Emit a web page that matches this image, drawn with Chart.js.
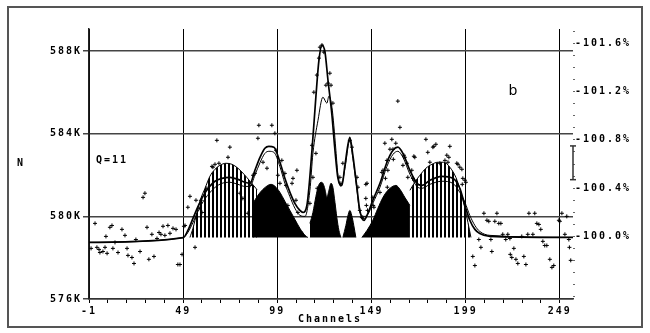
<!DOCTYPE html>
<html>
<head>
<meta charset="utf-8">
<script src="https://cdn.jsdelivr.net/npm/chart.js@4.4.0/dist/chart.umd.min.js"></script>
<style>
html, body { margin: 0; padding: 0; background: #fff; }
</style>
</head>
<body>
<canvas id="chart" width="650" height="333"></canvas>
<script>

// axis ticks
var xTicks = [-1, 9, 19, 29, 39, 49, 59, 69, 79, 89, 99, 109, 119, 129, 139, 149, 159, 169, 179, 189, 199, 209, 219, 229, 239, 249];
var xLabels = [-1, 49, 99, 149, 199, 249];
var yTicks = [576, 580, 584, 588];
var pctTicks = [-101.7, -101.6, -101.5, -101.4, -101.3, -101.2, -101.1, -101.0, -100.9, -100.8, -100.7, -100.6, -100.5, -100.4, -100.3, -100.2, -100.1, -100.0, -99.9, -99.8, -99.7, -99.6, -99.5];
var pctLabels = [-101.6, -101.2, -100.8, -100.4, -100.0];

// background level under the components (K counts)
var background = 578.98;
// error bar on the % axis
var errBar = [-100.75, -100.47];

// measured counts [channel, N in K]
var countsLeft = [[0.1,578.45],[2.2,579.66],[3.2,578.50],[4.3,578.40],[4.8,578.25],[6.4,578.30],[7.5,578.50],[8.0,579.03],[8.6,578.21],[10.1,579.47],[11.2,579.56],[11.7,578.45],[12.8,578.74],[14.4,578.25],[16.5,579.37],[18.1,579.08],[19.2,578.45],[19.7,578.11],[21.8,578.01],[22.9,577.72],[23.9,578.88],[26.1,578.30],[27.7,580.92],[28.7,581.12],[29.8,579.47],[30.8,577.92],[32.4,579.13],[33.5,578.06],[35.1,578.93],[36.2,579.22],[37.2,579.13],[38.3,579.52],[39.3,579.08],[40.9,579.56],[42.0,579.18],[43.6,579.42],[45.2,579.37],[46.2,577.67],[47.3,577.67],[48.4,578.16],[49.4,579.52]];
var countsPeaks = [[50.0,579.56],[51.5,580.44],[52.6,580.97],[55.3,578.50],[55.8,580.78],[57.9,580.39],[58.4,580.78],[59.0,580.19],[61.6,581.36],[64.3,582.42],[64.8,582.38],[65.9,582.52],[66.9,583.68],[68.0,582.57],[72.8,582.86],[73.8,583.35],[79.2,581.12],[80.7,580.87],[83.4,580.15],[84.5,581.50],[86.1,581.99],[87.1,582.08],[88.7,583.78],[89.2,584.41],[91.4,582.62],[93.5,582.33],[96.1,584.41],[97.7,584.02],[98.3,583.20],[99.3,581.99],[100.4,581.60],[101.4,582.71],[103.0,582.08],[103.6,581.50],[104.6,580.53],[106.8,581.60],[107.3,581.84],[108.9,580.78],[109.4,582.23],[109.9,580.19],[112.1,579.18],[116.3,580.63],[117.4,583.44],[117.9,581.89],[118.4,586.01],[119.5,583.05],[120.0,586.84],[120.2,581.36],[121.1,587.66],[121.6,588.19],[122.7,588.29],[123.7,587.95],[124.8,586.35],[125.9,586.45],[126.9,586.93],[127.5,586.35],[128.5,585.48],[132.2,581.89],[132.8,581.60],[133.8,582.57],[137.5,583.68],[138.6,583.35],[141.3,581.89],[141.8,581.41],[142.8,580.29],[143.9,579.95],[144.4,579.90],[146.0,581.55],[146.0,580.87],[146.3,580.53],[146.6,581.60],[146.9,580.29],[149.7,580.92],[149.9,580.53],[150.3,580.44],[153.5,581.16],[154.5,582.13],[155.1,582.23],[156.1,583.54],[156.4,581.84],[157.2,582.71],[157.4,581.41],[157.7,582.23],[158.8,583.25],[159.8,583.73],[160.4,583.25],[160.6,582.76],[161.9,583.54],[163.0,585.58],[164.1,584.31],[165.7,582.47],[166.2,582.96],[166.7,582.86],[167.8,582.57],[168.3,581.89],[170.4,582.23],[171.0,581.84],[171.5,582.91],[171.7,581.75],[172.0,582.86],[177.9,583.73],[178.9,583.10],[180.0,582.62],[181.6,583.35],[182.1,583.39],[183.2,583.49],[185.3,582.57],[188.0,582.71],[189.0,582.96],[189.6,582.62],[190.1,582.86],[190.6,583.39],[194.3,582.57],[194.9,582.52],[195.9,582.38],[197.0,582.28],[197.2,581.55],[197.5,581.84],[198.6,581.75],[199.1,581.65]];
var countsRight = [[202.8,578.06],[203.9,577.62],[206.0,578.88],[207.1,578.50],[208.7,580.15],[210.3,579.81],[211.3,579.76],[212.4,578.88],[212.9,578.30],[214.5,579.76],[215.6,580.15],[216.6,579.66],[217.7,579.66],[218.7,579.13],[220.3,578.88],[221.4,579.13],[222.5,578.93],[222.7,578.16],[223.5,578.01],[224.6,578.45],[225.7,577.92],[226.7,577.72],[228.8,579.03],[229.9,578.06],[231.0,577.67],[232.0,579.13],[232.6,580.15],[234.7,579.13],[235.7,580.15],[236.8,579.66],[237.9,579.61],[238.9,579.37],[240.0,578.79],[241.0,578.59],[242.1,578.59],[243.7,577.92],[244.8,577.53],[245.8,577.62],[248.5,579.81],[249.0,579.76],[250.1,580.15],[251.7,579.13],[252.7,580.00],[253.8,578.88],[254.1,578.50],[254.8,577.87]];

// total fit and second fit curve
var fitTotal = [[-1,578.74],[49,578.97],[51.5,579.32],[54.2,579.90],[56.9,580.48],[59.5,580.97],[62.7,581.41],[65.9,581.70],[69.6,581.84],[73.8,581.89],[78.1,581.79],[81.8,581.65],[84.5,581.60],[87.1,582.23],[89.8,582.86],[92.4,583.30],[94.5,583.39],[97.2,583.35],[100.4,582.62],[103.0,581.84],[105.7,581.16],[108.3,580.63],[111.0,580.29],[112.6,580.19],[114.7,580.53],[117.4,583.20],[119.5,585.82],[121.1,587.56],[122.7,588.29],[124.3,587.95],[125.9,586.59],[128.0,584.90],[129.6,583.20],[131.2,581.84],[133.3,581.50],[134.9,582.47],[137.5,583.83],[139.1,582.96],[141.3,581.36],[142.8,580.29],[145.0,579.81],[147.1,580.15],[149.7,580.78],[153.5,581.60],[157.2,582.62],[160.4,583.20],[163.0,583.35],[165.7,583.05],[169.4,582.23],[173.1,581.60],[175.8,581.50],[180.0,581.75],[186.4,581.94],[192.2,581.84],[195.9,581.36],[198.6,580.53],[201.2,579.81],[203.9,579.37],[206.5,579.17],[211.9,579.03],[256,578.98]];
var fitSecond = [[-1,578.74],[49,578.97],[51.5,579.22],[54.2,579.70],[56.9,580.25],[59.5,580.70],[62.7,581.10],[65.9,581.40],[69.6,581.60],[73.8,581.65],[78.1,581.55],[81.8,581.45],[84.5,581.45],[87.1,582.00],[89.8,582.60],[92.4,583.05],[94.5,583.15],[97.2,583.10],[100.4,582.40],[103.0,581.60],[105.7,580.95],[108.3,580.40],[111.0,580.05],[113.7,580.00],[116.3,581.26],[117.9,583.05],[120.6,584.65],[123.2,585.77],[125.3,585.48],[126.4,585.82],[128.0,585.28],[129.0,584.41],[130.1,583.20],[131.2,581.99],[132.8,581.45],[134.9,582.33],[137.5,583.68],[139.1,582.81],[141.3,581.26],[142.8,580.19],[145.5,580.00],[147.1,580.10],[149.7,580.63],[153.5,581.41],[157.2,582.42],[160.4,583.00],[163.0,583.15],[165.7,582.86],[169.4,582.04],[173.1,581.45],[175.8,581.36],[180.0,581.55],[186.4,581.70],[192.2,581.60],[195.9,581.16],[198.6,580.68],[201.2,580.05],[203.9,579.56],[206.5,579.27],[211.9,579.08],[256,578.98]];

// components drawn solid
var solidA = [[86.1,580.63],[88.7,581.02],[91.4,581.31],[94.0,581.50],[95.6,581.55],[97.7,581.46],[100.4,581.16],[103.0,580.73],[105.7,580.29],[108.3,579.86],[111.0,579.42],[113.7,579.08],[115.2,578.98]];
var solidMid = [[116.3,579.66],[117.9,580.19],[119.5,580.97],[120.6,581.41],[122.2,581.65],[123.2,581.60],[124.3,581.31],[125.3,580.92],[126.4,581.26],[127.5,581.60],[128.5,581.41],[129.6,580.68],[130.6,579.95],[131.7,579.32],[132.8,578.98]];
var solidSmall = [[133.8,578.98],[135.4,579.56],[136.4,580.00],[137.5,580.29],[138.5,580.05],[139.6,579.56],[140.7,578.98]];
var solidB = [[143.9,578.98],[146.6,579.32],[149.7,579.81],[152.4,580.39],[155.1,580.92],[157.7,581.26],[160.4,581.46],[162.0,581.50],[164.1,581.31],[166.7,580.92],[169.4,580.53]];
// components drawn hatched
var hatchA = [[52.6,578.98],[54.2,579.42],[56.3,580.19],[58.4,580.87],[60.6,581.36],[63.2,581.94],[65.9,582.28],[68.5,582.47],[71.7,582.57],[74.9,582.52],[78.1,582.33],[81.3,582.04],[84.5,581.70],[87.6,581.36],[88.2,581.30]];
var hatchB = [[169.4,581.26],[172.0,581.65],[174.7,581.99],[177.9,582.33],[181.1,582.52],[184.2,582.62],[187.4,582.62],[190.6,582.38],[193.8,581.89],[196.5,581.16],[198.6,580.39],[200.2,579.71],[201.8,578.98]];

function xy(arr) {
	return arr.map(function(p){ return {x: p[0], y: p[1]}; });
}

var canvas = document.getElementById('chart');
var ctx = canvas.getContext('2d');

// vertical stripe fill
var tile = document.createElement('canvas');
tile.width = 4; tile.height = 4;
var tctx = tile.getContext('2d');
tctx.fillStyle = '#000';
tctx.fillRect(0, 0, 2, 4);
var stripes = ctx.createPattern(tile, 'repeat');

var monoFont = {family: 'DejaVu Sans Mono', size: 10, weight: 'bold'};

function solid(arr) {
	return {type: 'line', data: xy(arr), borderColor: '#000', backgroundColor: '#000', borderWidth: 1,
		pointRadius: 0, fill: {value: background}, cubicInterpolationMode: 'monotone', order: 3};
}
function hatched(arr) {
	return {type: 'line', data: xy(arr), borderColor: '#000', backgroundColor: stripes, borderWidth: 1,
		pointRadius: 0, fill: {value: background}, cubicInterpolationMode: 'monotone', order: 4};
}

var decor = {
	id: 'decor',
	beforeUpdate: function(c){ c.ctx.letterSpacing = '2px'; },
	beforeDraw: function(c){ c.ctx.letterSpacing = '2px'; },
	afterDraw: function(c){
		var g = c.ctx;
		g.save();
		g.strokeStyle = '#555';
		g.lineWidth = 2;
		g.strokeRect(8, 7, 634, 320);
		g.fillStyle = '#000';
		g.font = 'bold 10px "DejaVu Sans Mono"';
		g.textBaseline = 'middle';
		g.textAlign = 'left';
		g.fillText('N', 17, 163);
		g.fillText('Q=11', 96, 160);
		g.textAlign = 'center';
		g.fillText('Channels', 330, 319);
		g.letterSpacing = '0px';
		g.font = '14px "DejaVu Sans"';
		g.fillText('b', 513, 91);
		g.restore();
	}
};

var chart = new Chart(ctx, {
	type: 'line',
	data: {
		datasets: [
			{type: 'scatter', data: xy(countsLeft.concat(countsPeaks, countsRight)), pointStyle: 'cross',
				pointRadius: 2, borderColor: '#000', backgroundColor: '#000', borderWidth: 1, order: 0},
			{type: 'line', data: xy(fitTotal), borderColor: '#000', borderWidth: 1.7, pointRadius: 0,
				fill: false, cubicInterpolationMode: 'monotone', order: 1},
			{type: 'line', data: xy(fitSecond), borderColor: '#000', borderWidth: 1, pointRadius: 0,
				fill: false, cubicInterpolationMode: 'monotone', order: 2},
			solid(solidA), solid(solidMid), solid(solidSmall), solid(solidB),
			hatched(hatchA), hatched(hatchB),
			{type: 'line', yAxisID: 'y2', data: [{x: 256, y: errBar[0]}, {x: 256, y: errBar[1]}],
				borderColor: '#333', borderWidth: 1.5, pointStyle: 'line', pointRadius: 3,
				pointBorderColor: '#333', pointBorderWidth: 1.5, clip: false, order: 0}
		]
	},
	options: {
		responsive: false,
		animation: false,
		events: [],
		layout: {padding: {top: 29, left: 0, right: 0, bottom: 0}},
		plugins: {legend: {display: false}, tooltip: {enabled: false}},
		scales: {
			x: {
				type: 'linear', position: 'bottom', min: -1, max: 256,
				afterBuildTicks: function(s){ s.ticks = xTicks.map(function(v){ return {value: v}; }); },
				afterFit: function(s){ s.height = 34; },
				ticks: {autoSkip: false, maxRotation: 0, padding: 2, color: '#000', font: monoFont,
					callback: function(v){ return xLabels.indexOf(v) >= 0 ? String(v) : ''; }},
				grid: {
					color: function(c){ return (c.tick && xLabels.indexOf(c.tick.value) >= 0) ? '#000' : 'rgba(0,0,0,0)'; },
					tickColor: '#000', tickLength: 4, lineWidth: 1
				},
				border: {color: '#333', width: 1.5}
			},
			y: {
				position: 'left', min: 576, max: 589.07,
				afterBuildTicks: function(s){ s.ticks = yTicks.map(function(v){ return {value: v}; }); },
				afterFit: function(s){ s.width = 89; },
				ticks: {padding: 1, color: '#000', font: monoFont,
					callback: function(v){ return v + 'K'; }},
				grid: {color: '#444', lineWidth: 1.5, tickLength: 6},
				border: {color: '#222', width: 1.5}
			},
			y2: {
				position: 'right', reverse: true, min: -101.72, max: -99.48,
				afterBuildTicks: function(s){ s.ticks = pctTicks.map(function(v){ return {value: v}; }); },
				afterFit: function(s){ s.width = 77; },
				ticks: {autoSkip: false, padding: 0, color: '#000', font: monoFont,
					callback: function(v){ return pctLabels.indexOf(v) >= 0 ? v.toFixed(1) + '%' : ''; }},
				grid: {drawOnChartArea: false, tickLength: 2, color: '#666'},
				border: {display: false}
			}
		}
	},
	plugins: [decor]
});

</script>
</body>
</html>
